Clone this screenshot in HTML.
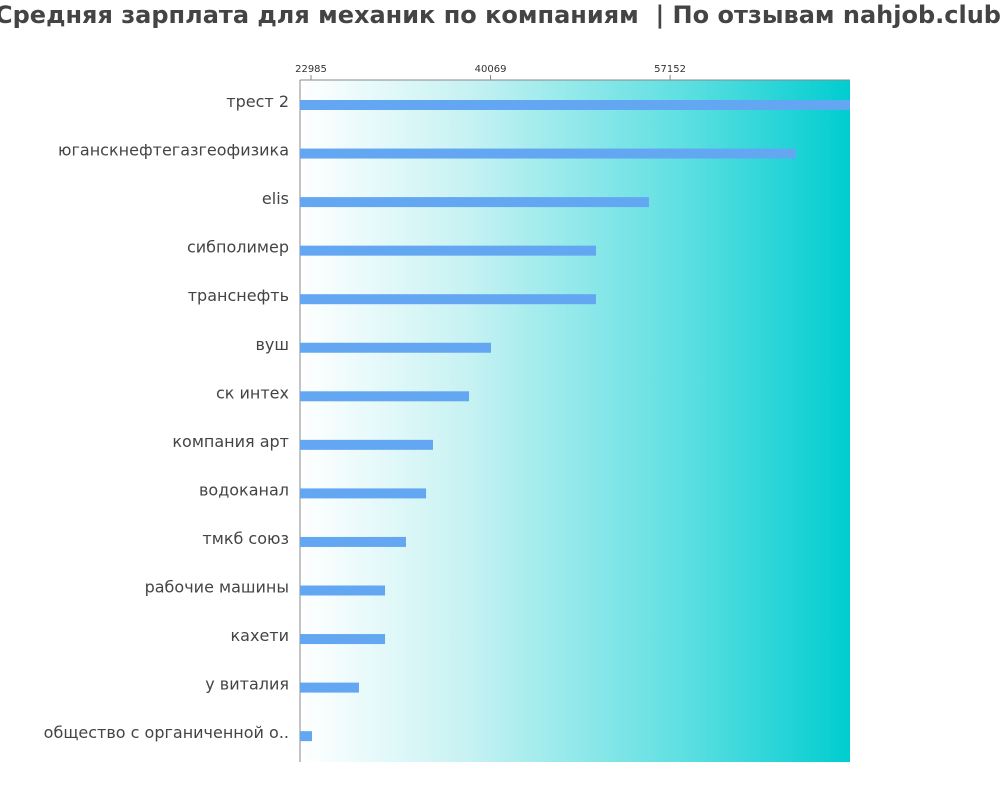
<!DOCTYPE html>
<html><head><meta charset="utf-8"><style>
body{margin:0;background:#fff;width:1000px;height:800px;overflow:hidden;font-family:"DejaVu Sans","Liberation Sans",sans-serif}
</style></head><body>
<svg width="1000" height="800">
<defs><linearGradient id="g" x1="0" x2="1" y1="0" y2="0">
<stop offset="0" stop-color="#ffffff"/><stop offset="0.3" stop-color="#c8f2f3"/><stop offset="0.7" stop-color="#5ddfe1"/><stop offset="1" stop-color="#00cdd0"/></linearGradient></defs>
<text x="498" y="23" text-anchor="middle" font-size="24" font-weight="bold" fill="#444" xml:space="preserve">Средняя зарплата для механик по компаниям  | По отзывам nahjob.club</text>
<rect x="300" y="80" width="550" height="682" fill="url(#g)"/>
<line x1="300" y1="80" x2="850" y2="80" stroke="#888"/>
<line x1="300" y1="80" x2="300" y2="762" stroke="#888"/>
<g id="ticks"></g><g id="bars"></g>
</svg>
<script>
const categories=["трест 2","юганскнефтегазгеофизика","elis","сибполимер","транснефть","вуш","ск интех","компания арт","водоканал","тмкб союз","рабочие машины","кахети","у виталия","общество с органиченной о.."];
const values=[75000,69130,55140,50100,50100,40110,38020,34590,33930,32020,30030,30030,27550,23080];
const tickValues=[22985,40069,57152];
const tickLabels=["22985","40069","57152"];
const x0=21938,x1=74270,L=300,R=850;
const xs=v=>L+(Math.min(v,x1)-x0)/(x1-x0)*(R-L);
const yc=i=>105+i*48.55;
const ns="http://www.w3.org/2000/svg";
const tg=document.getElementById('ticks'),bg=document.getElementById('bars');
tickValues.forEach((v,i)=>{
 const l=document.createElementNS(ns,'line');
 l.setAttribute('x1',xs(v));l.setAttribute('x2',xs(v));l.setAttribute('y1',75);l.setAttribute('y2',80);l.setAttribute('stroke','#888');
 
 
 tg.appendChild(l);
 const t=document.createElementNS(ns,'text');
 t.setAttribute('x',xs(v));t.setAttribute('y',72);t.setAttribute('text-anchor','middle');t.setAttribute('font-size','10');t.setAttribute('fill','#333');
 t.textContent=tickLabels[i];
 
 
 tg.appendChild(t);
});
categories.forEach((c,i)=>{
 const r=document.createElementNS(ns,'rect');
 r.setAttribute('x',L);r.setAttribute('y',yc(i)-5);r.setAttribute('width',xs(values[i])-L);r.setAttribute('height',10);r.setAttribute('fill','#63a7f2');
 
 
 bg.appendChild(r);
 const t=document.createElementNS(ns,'text');
 t.setAttribute('x',289);t.setAttribute('y',yc(i)+2);t.setAttribute('text-anchor','end');t.setAttribute('font-size','16');t.setAttribute('fill','#444');
 t.textContent=c;
 
 
 bg.appendChild(t);
});
</script>
</body></html>
